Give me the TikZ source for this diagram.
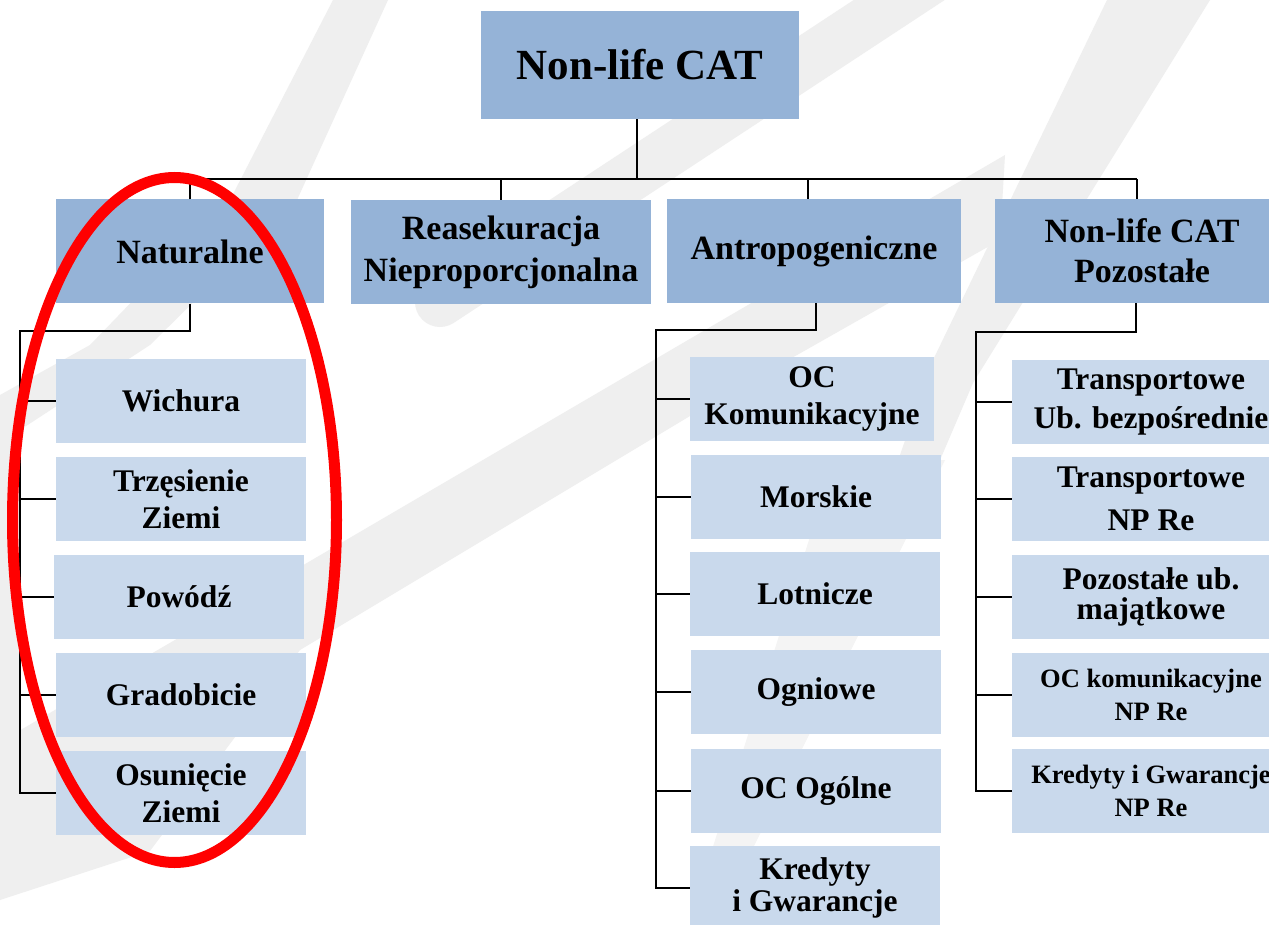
\documentclass[tikz,border=0pt]{standalone}
\usepackage{fontspec}
\setmainfont{Liberation Serif}
\definecolor{topblue}{HTML}{95B3D7}
\definecolor{leafblue}{HTML}{C9D9EC}
\definecolor{wmgrey}{HTML}{EFEFEF}
\definecolor{wmlight}{HTML}{F4F4F4}
\definecolor{markred}{HTML}{FF0000}

\tikzset{
  rootbox/.style={fill=topblue, inner sep=0pt, align=center,
    font=\bfseries\fontsize{43}{50}\selectfont},
  headbox/.style={fill=topblue, inner sep=0pt, align=center,
    minimum height=104pt, font=\bfseries\fontsize{34}{40}\selectfont},
  leafbox/.style={fill=leafblue, inner sep=0pt, align=center,
    minimum height=84pt, minimum width=250pt,
    font=\bfseries\fontsize{31.5}{37.5}\selectfont},
  smallleaf/.style={leafbox, font=\bfseries\fontsize{26.5}{32.5}\selectfont},
  conn/.style={draw=black, line width=2.2pt, line join=miter},
  ring/.style={draw=markred, line width=11pt}
}

\begin{document}
\begin{tikzpicture}[x=1pt, y=-1pt]
\useasboundingbox (0,0) rectangle (1269,925);
\clip (0,0) rectangle (1269,925);
\fill[white] (0,0) rectangle (1269,925);

% faint watermark strokes in the background
\fill[wmgrey] (333,0) -- (388,0) -- (297,200) -- (150,345) -- (20,430)
  -- (0,445) -- (0,395) -- (90,345) -- (230,200) -- cycle;
\fill[wmgrey] (0,420) -- (20,420) -- (20,742) -- (0,742) -- cycle;
\draw[wmgrey, line width=50pt, line cap=round] (440,302) -- (960,-40);
\fill[wmgrey] (1107,0) -- (1210,0) -- (973,383) -- (940,460) -- (900,455)
  -- (933,360) -- cycle;
\fill[wmgrey] (1005,155) -- (700,333) -- (300,567) -- (0,742) -- (0,900)
  -- (150,851) -- (300,650) -- (700,410) -- (1000,240) -- cycle;
\fill[wmlight] (834,460) -- (945,460) -- (752,850) -- (712,850) -- cycle;

% top level
\node[rootbox, minimum width=318pt, minimum height=108pt] (root) at (640,65) {Non-life CAT};

% second level
\node[headbox, minimum width=268pt] (nat) at (190,251.5) {Naturalne};
\node[headbox, minimum width=300pt] (rea) at (501,252) {Reasekuracja\\[2pt]Nieproporcjonalna};
\node[headbox, minimum width=294pt] (ant) at (814,251) {Antropogeniczne};
\node[headbox, minimum width=294pt] (poz) at (1142,251) {Non-life CAT\\Pozostałe};

% natural catastrophes
\node[leafbox] (wich) at (181,401) {Wichura};
\node[leafbox] (trz)  at (181,499) {Trzęsienie\\Ziemi};
\node[leafbox] (pow)  at (179,597) {Powódź};
\node[leafbox] (grad) at (181,695) {Gradobicie};
\node[leafbox] (osu)  at (181,793) {Osunięcie\\Ziemi};

% man-made catastrophes
\node[leafbox, minimum width=244pt] (ockom) at (812,399) {OC\\Komunikacyjne};
\node[leafbox] (mor)  at (816,497) {Morskie};
\node[leafbox] (lot)  at (815,594) {Lotnicze};
\node[leafbox] (ogn)  at (816,692) {Ogniowe};
\node[leafbox] (ocog) at (816,791) {OC Ogólne};
\node[leafbox] (kred) at (815,888) {Kredyty\\[-6pt]i Gwarancje};

% other non-life catastrophe lines
\node[leafbox, minimum width=278pt] (tub)   at (1151,402) {Transportowe\\[2pt]Ub. bezpośrednie};
\node[leafbox, minimum width=278pt] (tnp)   at (1151,499) {Transportowe\\[5pt]NP Re};
\node[leafbox, minimum width=278pt] (pozub) at (1151,597) {Pozostałe ub.\\[-7pt]majątkowe};
\node[smallleaf, minimum width=278pt] (ocnp) at (1151,695) {OC komunikacyjne\\NP Re};
\node[smallleaf, minimum width=278pt] (kgnp) at (1151,791) {Kredyty i Gwarancje\\NP Re};

% bus under the top box
\coordinate (busL) at (190,179);
\coordinate (busR) at (1137,179);
\draw[conn] (busL) -- (busR);
\draw[conn] ([xshift=-3pt]root.south) -- ([xshift=-3pt]root.south |- busL);
\draw[conn] (nat.north) -- (nat.north |- busL);
\draw[conn] (rea.north) -- (rea.north |- busL);
\draw[conn] ([xshift=-6pt]ant.north) -- ([xshift=-6pt]ant.north |- busL);
\draw[conn] ([xshift=-5pt]poz.north) -- (busR);

% branches of each column
\coordinate (natS) at (20,331);
\draw[conn] (nat.south) |- (natS) -- (natS |- osu.west) -- (osu.west);
\foreach \n in {wich,trz,pow,grad} \draw[conn] (natS |- \n.west) -- (\n.west);

\coordinate (antS) at (656,330);
\draw[conn] ([xshift=2pt]ant.south) |- (antS) -- (antS |- kred.west) -- (kred.west);
\foreach \n in {ockom,mor,lot,ogn,ocog} \draw[conn] (antS |- \n.west) -- (\n.west);

\coordinate (pozS) at (976,332);
\draw[conn] ([xshift=-6pt]poz.south) |- (pozS) -- (pozS |- kgnp.west) -- (kgnp.west);
\foreach \n in {tub,tnp,pozub,ocnp} \draw[conn] (pozS |- \n.west) -- (\n.west);

% highlight round the natural catastrophes
\draw[ring] (174.5,520) ellipse [x radius=162pt, y radius=342.5pt];
\end{tikzpicture}
\end{document}
